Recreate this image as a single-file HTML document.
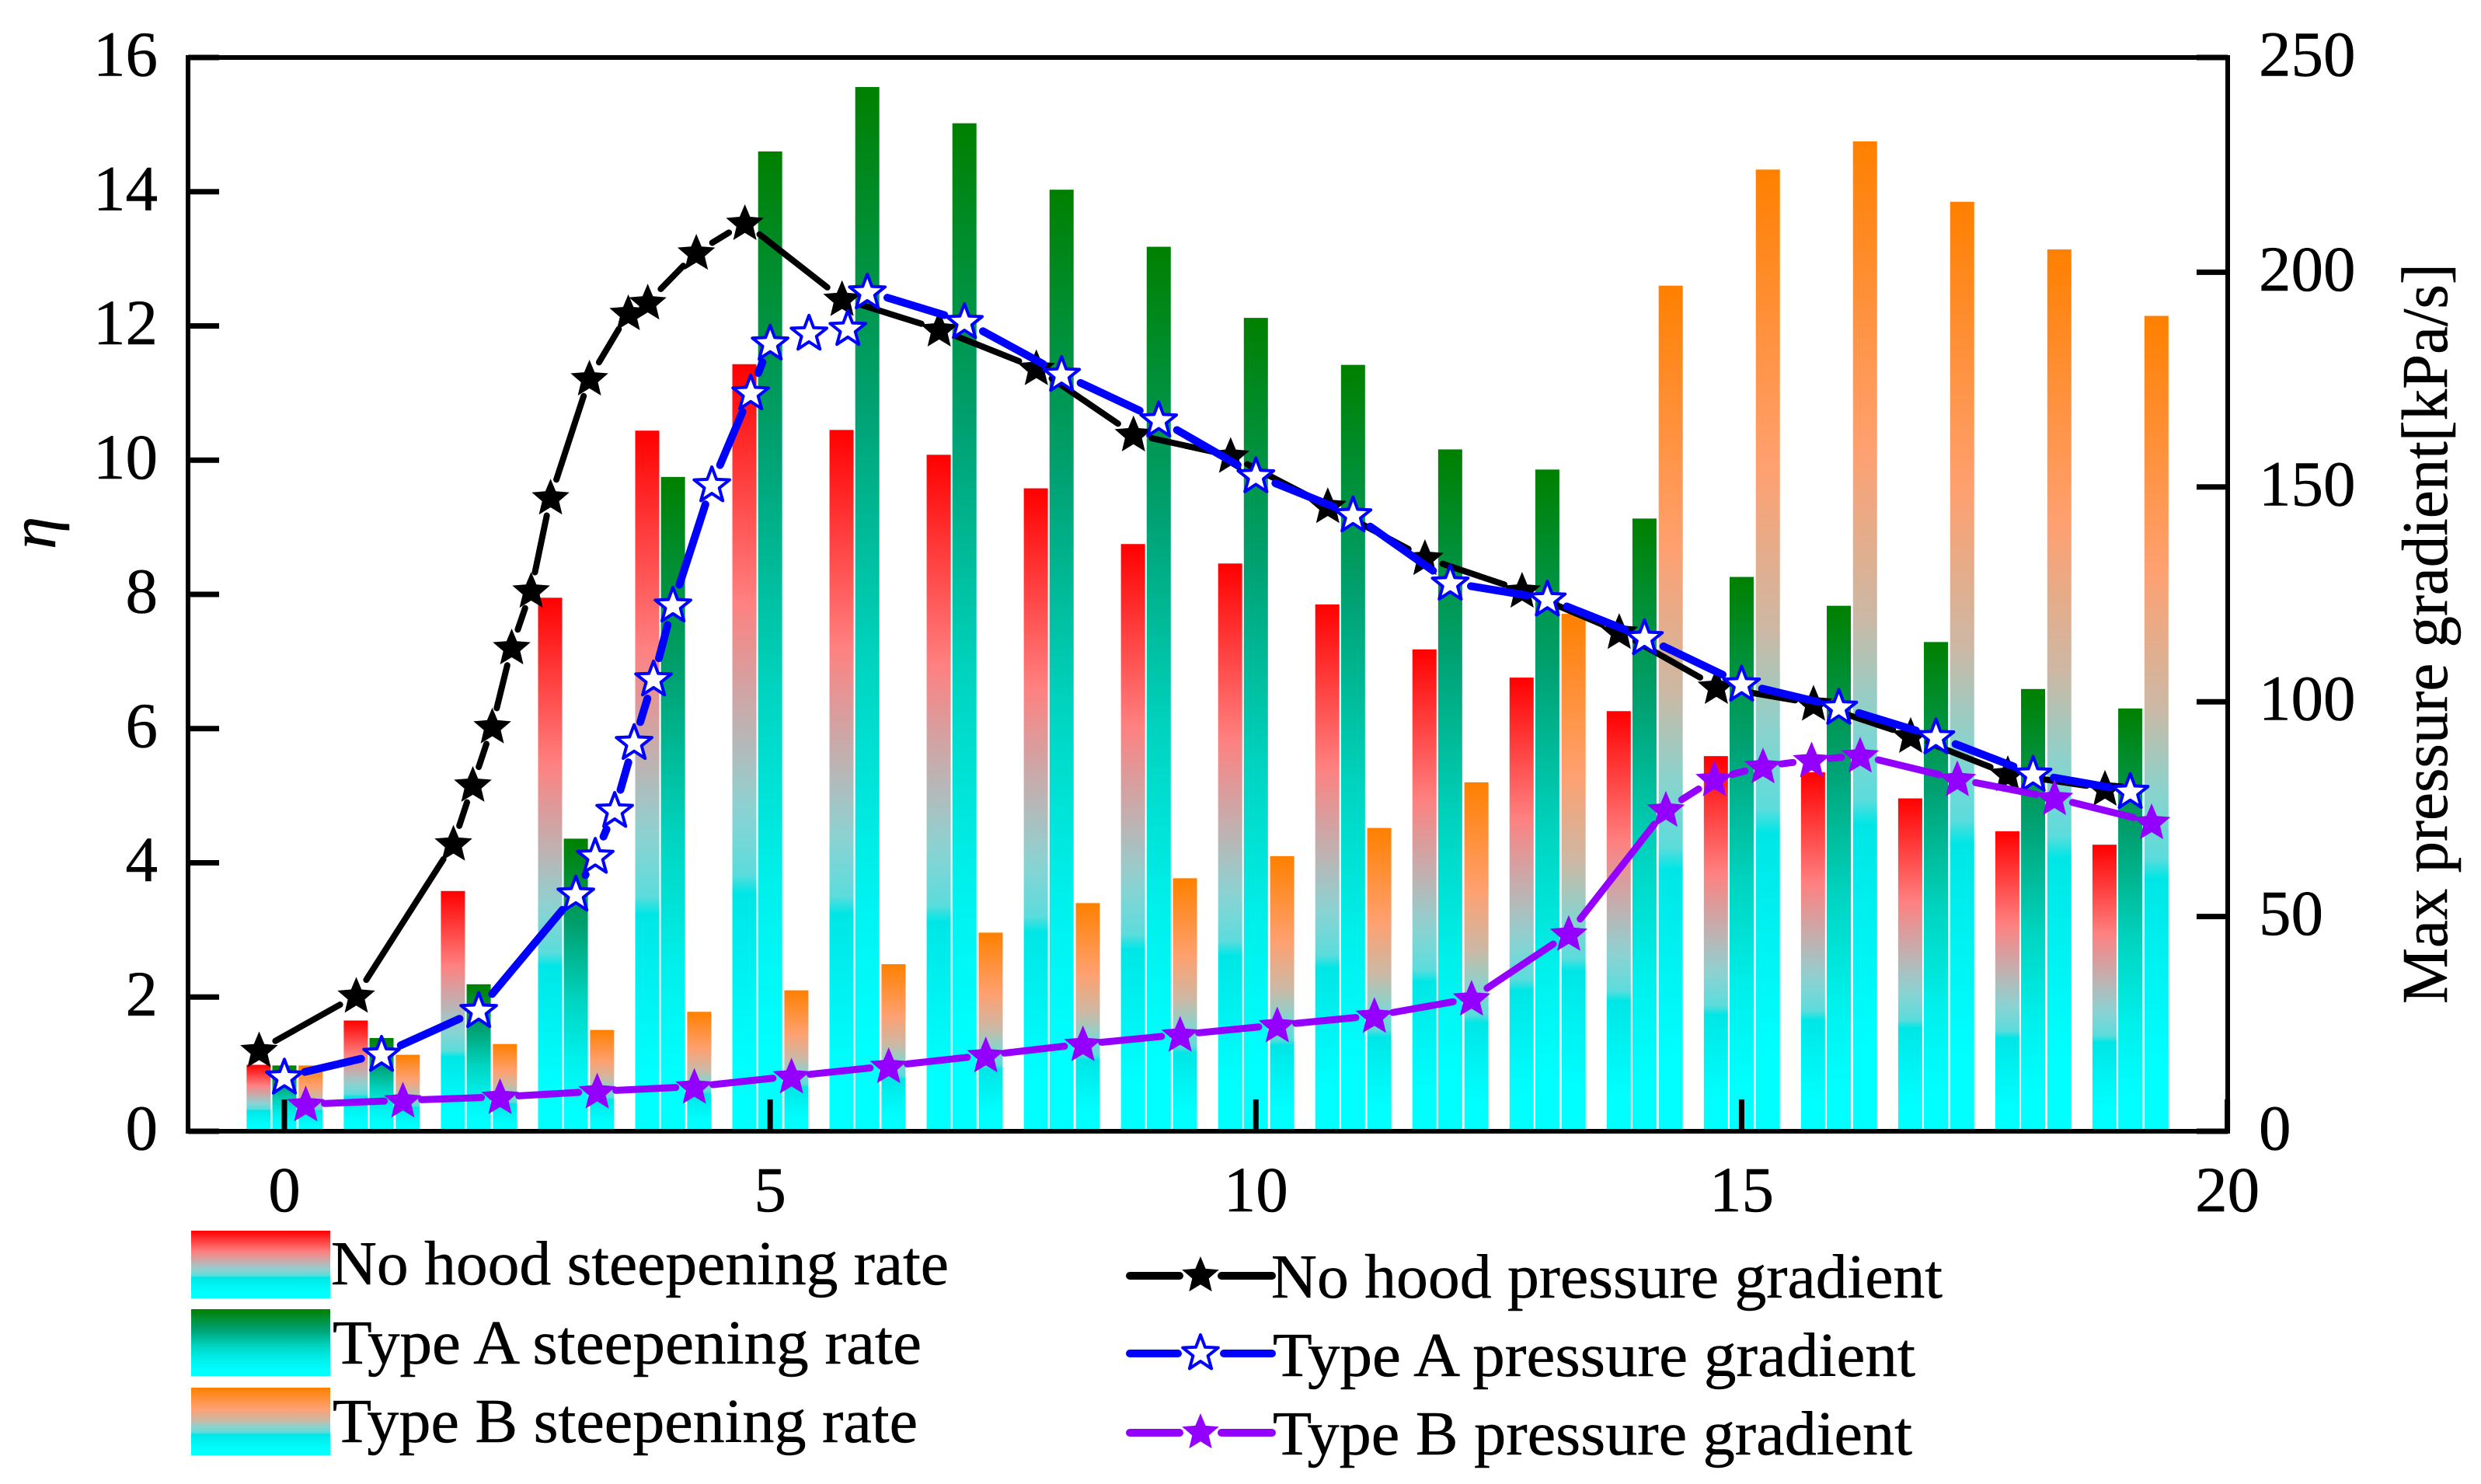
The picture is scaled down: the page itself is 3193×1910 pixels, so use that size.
<!DOCTYPE html>
<html lang="en">
<head>
<meta charset="utf-8">
<title>Steepening rate and max pressure gradient</title>
<style>
html,body{margin:0;padding:0;background:#fff;}
svg{display:block;}
text{font-family:"Liberation Serif",serif;fill:#000;stroke:#000;stroke-width:0.5;}
</style>
</head>
<body>
<svg id="chart" xmlns="http://www.w3.org/2000/svg" width="3193" height="1910" viewBox="0 0 3193 1910">
<defs>
<linearGradient id="grad-red" x1="0" y1="0" x2="0" y2="1">
<stop offset="0" stop-color="#ff0000"/><stop offset="0.31" stop-color="#ff8080"/><stop offset="0.48" stop-color="#bcb4b4"/><stop offset="0.58" stop-color="#8cd2d2"/><stop offset="0.665" stop-color="#5cdcdc"/><stop offset="0.69" stop-color="#00e6e6"/><stop offset="0.92" stop-color="#00ffff"/><stop offset="1" stop-color="#00ffff"/>
</linearGradient>
<linearGradient id="grad-green" x1="0" y1="0" x2="0" y2="1">
<stop offset="0" stop-color="#008000"/><stop offset="0.3" stop-color="#00a070"/><stop offset="0.55" stop-color="#00d4c0"/><stop offset="0.75" stop-color="#00f0ec"/><stop offset="0.92" stop-color="#00ffff"/><stop offset="1" stop-color="#00ffff"/>
</linearGradient>
<linearGradient id="grad-orange" x1="0" y1="0" x2="0" y2="1">
<stop offset="0" stop-color="#ff8000"/><stop offset="0.31" stop-color="#ffa070"/><stop offset="0.48" stop-color="#ccb8a4"/><stop offset="0.58" stop-color="#8cd2cc"/><stop offset="0.665" stop-color="#5cdcdc"/><stop offset="0.69" stop-color="#00e6e6"/><stop offset="0.92" stop-color="#00ffff"/><stop offset="1" stop-color="#00ffff"/>
</linearGradient>
</defs>

<g id="bars"></g>
<g id="ticks"></g>
<g id="lines"></g>
<g id="labels"></g>

<rect x="242" y="74" width="2625" height="1382" fill="none" stroke="#000" stroke-width="6"/>

<text transform="translate(71,707) rotate(-90)" font-size="85" font-style="italic">η</text>
<text transform="translate(3149,1292) rotate(-90)" font-size="84" textLength="953" lengthAdjust="spacingAndGlyphs">Max pressure gradient[kPa/s]</text>

<g>
<g>
<rect x="246" y="1584" width="179" height="87" fill="url(#grad-red)"/>
<text x="426" y="1653" font-size="80" textLength="795" lengthAdjust="spacingAndGlyphs">No hood steepening rate</text>
</g>
<g>
<rect x="246" y="1685" width="179" height="86" fill="url(#grad-green)"/>
<text x="428" y="1755" font-size="80" textLength="758" lengthAdjust="spacingAndGlyphs">Type A steepening rate</text>
</g>
<g>
<rect x="246" y="1786" width="179" height="87" fill="url(#grad-orange)"/>
<text x="428" y="1856" font-size="80" textLength="753" lengthAdjust="spacingAndGlyphs">Type B steepening rate</text>
</g>
</g>

<g>
<g>
<line x1="1454" y1="1642" x2="1518" y2="1642" stroke="#000" stroke-width="10" stroke-linecap="round"/>
<line x1="1572" y1="1642" x2="1637" y2="1642" stroke="#000" stroke-width="10" stroke-linecap="round"/>
<polygon id="legend-star-black" fill="#000"/>
<text x="1636" y="1670" font-size="80" textLength="864" lengthAdjust="spacingAndGlyphs">No hood pressure gradient</text>
</g>
<g>
<line x1="1454" y1="1742" x2="1516" y2="1742" stroke="#0000ff" stroke-width="10" stroke-linecap="round"/>
<line x1="1575" y1="1742" x2="1637" y2="1742" stroke="#0000ff" stroke-width="10" stroke-linecap="round"/>
<polygon id="legend-star-blue" fill="#fff" stroke="#0000ff" stroke-width="4" stroke-linejoin="round"/>
<text x="1638" y="1771" font-size="80" textLength="827" lengthAdjust="spacingAndGlyphs">Type A pressure gradient</text>
</g>
<g>
<line x1="1454" y1="1844" x2="1518" y2="1844" stroke="#9400ff" stroke-width="10" stroke-linecap="round"/>
<line x1="1572" y1="1844" x2="1637" y2="1844" stroke="#9400ff" stroke-width="10" stroke-linecap="round"/>
<polygon id="legend-star-purple" fill="#9400ff"/>
<text x="1638" y="1872" font-size="80" textLength="823" lengthAdjust="spacingAndGlyphs">Type B pressure gradient</text>
</g>
</g>
</svg>

<script>
// ---- chart data ----
const barCategories = [0,1,2,3,4,5,6,7,8,9,10,11,12,13,14,15,16,17,18,19];
const noHoodSteepening = [0.99,1.65,3.58,7.95,10.44,11.43,10.45,10.08,9.58,8.75,8.46,7.85,7.18,6.76,6.26,5.59,5.35,4.96,4.47,4.27];
const typeASteepening = [0.98,1.39,2.19,4.36,9.75,14.6,15.56,15.02,14.03,13.18,12.12,11.42,10.16,9.86,9.13,8.26,7.83,7.29,6.59,6.3];
const typeBSteepening = [0.98,1.14,1.3,1.51,1.78,2.1,2.49,2.96,3.4,3.77,4.1,4.52,5.2,7.71,12.6,14.33,14.75,13.85,13.14,12.15];

const noHoodGradientX = [-0.26,0.74,1.74,1.94,2.14,2.34,2.54,2.74,3.14,3.54,3.74,4.24,4.74,5.74,6.74,7.74,8.74,9.74,10.74,11.74,12.74,13.74,14.74,15.74,16.74,17.74,18.74];
const noHoodGradientY = [18.9,31.6,67,80.7,94.3,112.7,125.9,147.6,175.3,190.5,193,204.6,211.5,193.8,186.7,177.7,162.3,157.3,145.6,133.5,125.9,116.3,103.5,99.6,92.1,83.2,79.8];
const typeAGradientX = [0,1,2,3,3.2,3.4,3.6,3.8,4,4.4,4.8,5,5.4,5.8,6,7,8,9,10,11,12,13,14,15,16,17,18,19];
const typeAGradientY = [12.7,18,28.2,55.3,64.1,74.8,90.6,105.4,122.6,150.6,172,183.6,185.9,187,195.5,188.6,176.3,165.7,152.7,143.6,127.7,124,115,104.2,98.8,91.9,83.2,79.2];
const typeBGradientX = [0.22,1.22,2.22,3.22,4.22,5.22,6.22,7.22,8.22,9.22,10.22,11.22,12.22,13.22,14.22,14.72,15.22,15.72,16.22,17.22,18.22,19.22];
const typeBGradientY = [6.3,7.2,8,9.3,10.4,12.8,15.2,17.7,20.3,22.5,24.7,26.9,30.9,46,74.9,82,85,86.4,87.5,82,77.6,72];

const xTickLabels = [0,5,10,15,20];
const leftTickLabels = [0,2,4,6,8,10,12,14,16];
const rightTickLabels = [0,50,100,150,200,250];

// ---- axis functions ----
const X_ZERO = 366, X_PER_UNIT = 125.03;
const Y_ZERO = 1456, PLOT_H = 1382;
const xAxis = function (v) { return X_ZERO + v * X_PER_UNIT; };
const yLeft = function (v) { return Y_ZERO - v / 16 * PLOT_H; };
const yRight = function (v) { return Y_ZERO - v / 250 * PLOT_H; };

const NS = 'http://www.w3.org/2000/svg';
function mk(tag, parent) {
  const el = document.createElementNS(NS, tag);
  parent.appendChild(el);
  return el;
}
function starPoints(cx, cy, R, ratio) {
  const pts = [];
  for (let i = 0; i < 10; i++) {
    const r = i % 2 === 0 ? R : R * ratio;
    const a = -Math.PI / 2 + i * Math.PI / 5;
    pts.push((cx + r * Math.cos(a)).toFixed(2) + ',' + (cy + r * Math.sin(a)).toFixed(2));
  }
  return pts.join(' ');
}

// ---- bars ----
const barsG = document.getElementById('bars');
const BAR_W = 31;
function drawBars(values, offset, fill, name) {
  values.forEach(function (v, i) {
    const r = mk('rect', barsG);
    const cx = xAxis(barCategories[i] + offset);
    r.setAttribute('x', (cx - BAR_W / 2).toFixed(2));
    r.setAttribute('y', yLeft(v).toFixed(2));
    r.setAttribute('width', BAR_W);
    r.setAttribute('height', (yLeft(0) - yLeft(v)).toFixed(2));
    r.setAttribute('fill', fill);
    
    
  });
}
drawBars(noHoodSteepening, -0.265, 'url(#grad-red)', 'no-hood-steepening');
drawBars(typeASteepening, 0, 'url(#grad-green)', 'type-a-steepening');
drawBars(typeBSteepening, 0.27, 'url(#grad-orange)', 'type-b-steepening');

// ---- ticks and tick labels ----
const ticksG = document.getElementById('ticks');
const labelsG = document.getElementById('labels');
function tick(x1, y1, x2, y2, w, name) {
  const l = mk('line', ticksG);
  l.setAttribute('x1', x1); l.setAttribute('y1', y1);
  l.setAttribute('x2', x2); l.setAttribute('y2', y2);
  l.setAttribute('stroke', '#000'); l.setAttribute('stroke-width', w);
  
  
}
function label(x, y, txt, anchor, name) {
  const t = mk('text', labelsG);
  t.setAttribute('x', x); t.setAttribute('y', y);
  t.setAttribute('font-size', 83);
  t.setAttribute('text-anchor', anchor);
  t.textContent = txt;
  
  
}
xTickLabels.forEach(function (v) {
  const x = xAxis(v);
  tick(x, Y_ZERO, x, Y_ZERO - 41, 7, 'x-tick');
  label(x, 1559, String(v), 'middle', 'x-tick-label');
});
leftTickLabels.forEach(function (v) {
  const y = yLeft(v);
  tick(242, y, 282, y, 7, 'left-y-tick');
  label(203, y + 23.5, String(v), 'end', 'left-y-tick-label');
});
rightTickLabels.forEach(function (v) {
  const y = yRight(v);
  tick(2867, y, 2827, y, 7, 'right-y-tick');
  label(2907, y + 23.5, String(v), 'start', 'right-y-tick-label');
});

// ---- line series ----
const linesG = document.getElementById('lines');
function drawSeries(xs, ys, cfg) {
  const px = xs.map(xAxis);
  const py = ys.map(yRight);
  const segG = mk('g', linesG);
  
  
  for (let i = 0; i < px.length - 1; i++) {
    const dx = px[i + 1] - px[i], dy = py[i + 1] - py[i];
    const d = Math.hypot(dx, dy);
    if (d <= cfg.gap * 2) continue;
    const ux = dx / d, uy = dy / d;
    const s = mk('line', segG);
    s.setAttribute('x1', (px[i] + ux * cfg.gap).toFixed(2));
    s.setAttribute('y1', (py[i] + uy * cfg.gap).toFixed(2));
    s.setAttribute('x2', (px[i + 1] - ux * cfg.gap).toFixed(2));
    s.setAttribute('y2', (py[i + 1] - uy * cfg.gap).toFixed(2));
    s.setAttribute('stroke', cfg.color);
    s.setAttribute('stroke-width', cfg.width);
    s.setAttribute('stroke-linecap', 'round');
  }
  const starG = mk('g', linesG);
  
  
  px.forEach(function (x, i) {
    const p = mk('polygon', starG);
    p.setAttribute('points', starPoints(x, py[i] + 1.5, cfg.R, cfg.ratio));
    p.setAttribute('fill', cfg.fill);
    if (cfg.stroke) {
      p.setAttribute('stroke', cfg.stroke);
      p.setAttribute('stroke-width', cfg.strokeWidth);
      p.setAttribute('stroke-linejoin', 'round');
    }
    
    
  });
}
drawSeries(noHoodGradientX, noHoodGradientY, {name:'no-hood-gradient', color:'#000', width:8, gap:24, R:25.5, ratio:0.45, fill:'#000'});
drawSeries(typeAGradientX, typeAGradientY, {name:'type-a-gradient', color:'#0000ff', width:10, gap:27, R:24, ratio:0.42, fill:'#fff', stroke:'#0000ff', strokeWidth:4});
drawSeries(typeBGradientX, typeBGradientY, {name:'type-b-gradient', color:'#9400ff', width:9, gap:24, R:25.5, ratio:0.45, fill:'#9400ff'});

// ---- legend stars ----
document.getElementById('legend-star-black').setAttribute('points', starPoints(1545, 1642, 25, 0.45));
document.getElementById('legend-star-blue').setAttribute('points', starPoints(1545, 1742, 24, 0.42));
document.getElementById('legend-star-purple').setAttribute('points', starPoints(1545, 1844, 25, 0.45));
</script>
</body>
</html>
